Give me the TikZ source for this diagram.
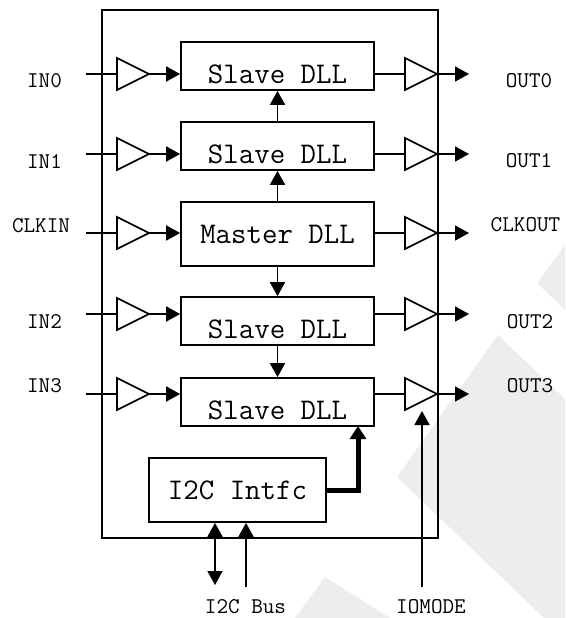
\documentclass[tikz,border=0pt]{standalone}
\usepackage{fontspec}
\usetikzlibrary{arrows.meta,shapes.geometric}
\begin{document}
\begin{tikzpicture}[x=1pt,y=-1pt,
  ln/.style={line width=1.7pt},
  arr/.style={ln,-{Triangle[length=14pt,width=15pt]}},
  dblarr/.style={ln,{Triangle[length=14pt,width=15pt]}-{Triangle[length=14pt,width=15pt]}},
  fatarr/.style={line width=5pt,-{Triangle[length=13pt,width=16pt]}},
  dllbox/.style={draw,ln,minimum width=193pt,inner sep=0pt},
  bigtxt/.style={font=\ttfamily\fontsize{30}{34}\selectfont},
  lbl/.style={font=\ttfamily\fontsize{22.5}{26}\selectfont,inner sep=0pt},
  buf/.style={draw,ln,isosceles triangle,isosceles triangle stretches,
    shape border rotate=0,minimum width=32pt,minimum height=32pt,
    inner sep=0pt,outer sep=0pt,anchor=west},
  wm/.style={fill=black!7,draw=none}]
\useasboundingbox (0,0) rectangle (565,618);
% faint watermark
\fill[wm] (565,245) -- (537,283) -- (565,310) -- cycle;
\fill[wm] (498,335) -- (565,399) -- (565,618) -- (544,618) -- (397,477) -- cycle;
\fill[wm] (325,577) -- (390,618) -- (295,618) -- cycle;
% outer frame
\node[draw,ln,minimum width=336pt,minimum height=528pt,inner sep=0pt] (frame) at (270,274) {};
% DLL boxes
\node[dllbox,minimum height=48pt,label={[bigtxt,yshift=-8pt]center:Slave DLL}] (s0) at (277.5,66) {};
\node[dllbox,minimum height=48pt,label={[bigtxt,yshift=-8pt]center:Slave DLL}] (s1) at (277.5,146) {};
\node[dllbox,minimum height=64pt,label={[bigtxt]center:Master DLL}] (m) at (277.5,234) {};
\node[dllbox,minimum height=48pt,label={[bigtxt,yshift=-8pt]center:Slave DLL}] (s2) at (277.5,321) {};
\node[dllbox,minimum height=48pt,label={[bigtxt,yshift=-8pt]center:Slave DLL}] (s3) at (277.5,402) {};
\node[draw,ln,minimum width=177pt,minimum height=64pt,inner sep=0pt,bigtxt] (i2c) at (237.5,490) {I2C Intfc};
% input buffers
\node[buf] (bi0) at (117,74) {};
\node[buf] (bi1) at (117,154) {};
\node[buf] (bic) at (117,233) {};
\node[buf] (bi2) at (117,314) {};
\node[buf] (bi3) at (117,394) {};
% output buffers
\node[buf] (bo0) at (405,74) {};
\node[buf] (bo1) at (405,154) {};
\node[buf] (boc) at (405,233) {};
\node[buf] (bo2) at (405,314) {};
\node[buf] (bo3) at (405,394) {};
% input labels
\node[lbl] (lin0) at (44.5,81) {IN0};
\node[lbl] (lin1) at (44.5,161) {IN1};
\node[lbl] (lclkin) at (41,225.5) {CLKIN};
\node[lbl] (lin2) at (44.5,321.5) {IN2};
\node[lbl] (lin3) at (44.5,386) {IN3};
% output labels
\node[lbl] (lout0) at (529,81) {OUT0};
\node[lbl] (lout1) at (529,161) {OUT1};
\node[lbl] (lclkout) at (525.5,224.5) {CLKOUT};
\node[lbl] (lout2) at (530,321.5) {OUT2};
\node[lbl] (lout3) at (530,386) {OUT3};
\node[lbl] (lbus) at (245.5,606.5) {I2C Bus};
\node[lbl] (lio) at (431,606.5) {IOMODE};
% input line start points
\coordinate (a0) at (86,74);
\coordinate (a1) at (86,154);
\coordinate (ac) at (86,233);
\coordinate (a2) at (86,314);
\coordinate (a3) at (86,394);
% output arrow ends
\coordinate (e0) at (469,74);
\coordinate (e1) at (469,154);
\coordinate (ec) at (469,233);
\coordinate (e2) at (469,314);
\coordinate (e3) at (469,394);
% inputs
\foreach \r in {0,1,c,2,3}{
  \draw[ln] (a\r) -- (bi\r.west);
}
\draw[arr] (bi0.east) -- (bi0.east -| s0.west);
\draw[arr] (bi1.east) -- (bi1.east -| s1.west);
\draw[arr] (bic.east) -- (bic.east -| m.west);
\draw[arr] (bi2.east) -- (bi2.east -| s2.west);
\draw[arr] (bi3.east) -- (bi3.east -| s3.west);
% outputs
\draw[ln] (bo0.west -| s0.east) -- (bo0.west);
\draw[ln] (bo1.west -| s1.east) -- (bo1.west);
\draw[ln] (boc.west -| m.east) -- (boc.west);
\draw[ln] (bo2.west -| s2.east) -- (bo2.west);
\draw[ln] (bo3.west -| s3.east) -- (bo3.west);
\foreach \r in {0,1,c,2,3}{
  \draw[arr] (bo\r.east) -- (e\r);
}
% DLL chain
\draw[arr] (s1.north) -- (s0.south);
\draw[arr] (m.north) -- (s1.south);
\draw[arr] (m.south) -- (s2.north);
\draw[arr] (s2.south) -- (s3.north);
% I2C control
\coordinate (t3) at (358,426);
\draw[fatarr] (i2c.east) -| (t3);
% bus
\coordinate (bus1) at (215,585);
\coordinate (bus2) at (246,587);
\draw[dblarr] (bus1) -- (bus1 |- i2c.south);
\draw[arr] (bus2) -- (bus2 |- i2c.south);
% IOMODE
\coordinate (io) at (422,587);
\coordinate (iot) at (422,411);
\draw[arr] (io) -- (iot);
\end{tikzpicture}
\end{document}
